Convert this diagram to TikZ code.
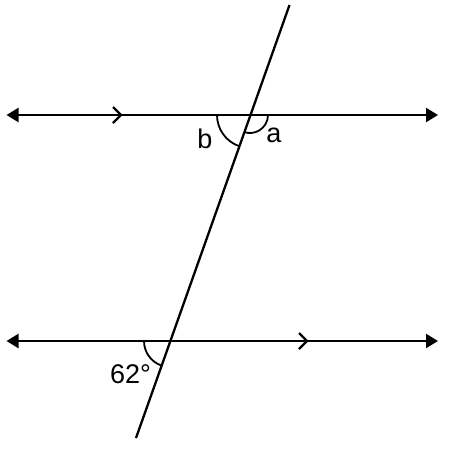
\documentclass[tikz,border=0pt]{standalone}
\usepackage{fontspec}
\setmainfont{Liberation Sans}
\usetikzlibrary{arrows.meta,calc}
\begin{document}
\begin{tikzpicture}[x=1pt,y=-1pt,
  ln/.style={line width=2.3pt},
  arr/.style={ln,{Triangle[length=12pt,width=14pt]}-{Triangle[length=12pt,width=14pt]}},
  arc/.style={line width=1.8pt},
  lbl/.style={font=\fontsize{27}{30}\selectfont, inner sep=0pt}]
\useasboundingbox (0,0) rectangle (454,450);
\coordinate (L1) at (6.5,115);
\coordinate (R1) at (438,115);
\coordinate (L2) at (6.5,341);
\coordinate (R2) at (438,341);
\coordinate (T) at (289.5,5);
\coordinate (B) at (136,438);
\coordinate (P) at (250,115);
\coordinate (Q) at (170,341);
\draw[arr] (L1) -- (R1);
\draw[arr] (L2) -- (R2);
\draw[ln] (T) -- (B);
% chevrons
\coordinate (C1) at (121,115);
\coordinate (C2) at (307,341);
\draw[ln] ($(C1)+(-8,-8)$) -- (C1) -- ($(C1)+(-8,8)$);
\draw[ln] ($(C2)+(-8,-8)$) -- (C2) -- ($(C2)+(-8,8)$);
% arcs
\draw[arc] ($(P)+(18,0)$) arc[start angle=0,end angle=109.5,radius=18];
\draw[arc] ($(P)+(-33,0)$) arc[start angle=180,end angle=109.5,radius=33];
\draw[arc] ($(Q)+(-26,0)$) arc[start angle=180,end angle=109.5,radius=26];
\node[lbl] (a) at (274,135) {a};
\node[lbl] (b) at (205,139) {b};
\node[lbl] (g) at (130.5,374) {62°};
\end{tikzpicture}
\end{document}
